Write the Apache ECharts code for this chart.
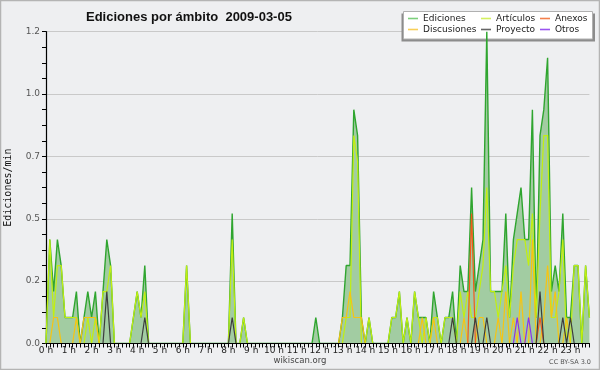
<!DOCTYPE html>
<html><head><meta charset="utf-8">
<script src="https://cdn.jsdelivr.net/npm/echarts/dist/echarts.min.js"></script>
<style>html,body{margin:0;padding:0;background:#eeeff1;}#c{width:600px;height:370px;}</style>
</head><body><div id="c"></div>
<script>
const hourLabels = ['0 h','1 h','2 h','3 h','4 h','5 h','6 h','7 h','8 h','9 h','10 h','11 h',
  '12 h','13 h','14 h','15 h','16 h','17 h','18 h','19 h','20 h','21 h','22 h','23 h'];
const seriesNames = ['Ediciones','Artículos','Anexos','Discusiones','Proyecto','Otros'];
// 10-minute bins, edits per minute (one row per hour)
const ediciones = [
  0,0.4,0.2,0.4,0.3,0.1,  0.1,0.1,0.2,0,0.1,0.2,  0.1,0.2,0,0.2,0.4,0.3,  0,0,0,0,0,0.1,
  0.2,0.1,0.3,0,0,0,  0,0,0,0,0,0,  0,0.3,0,0,0,0,  0,0,0,0,0,0,
  0,0.5,0,0,0.1,0,  0,0,0,0,0,0,  0,0,0,0,0,0,  0,0,0,0,0,0.1,
  0,0,0,0,0,0,  0.1,0.3,0.3,0.9,0.8,0.1,  0,0.1,0,0,0,0,  0,0.1,0.1,0.2,0,0.1,
  0,0.2,0.1,0.1,0.1,0,  0.2,0.1,0,0.1,0.1,0.2,  0,0.3,0.2,0.2,0.6,0.2,  0.3,0.4,1.2,0.2,0.2,0.2,
  0.2,0.5,0.1,0.4,0.5,0.6,  0.4,0.4,0.9,0.1,0.8,0.9,  1.1,0.2,0.3,0.2,0.5,0.1,  0.1,0.3,0.3,0,0.3,0.1
];
const articulos = [
  0,0.4,0.1,0.3,0.3,0.1,  0.1,0.1,0.1,0,0,0.1,  0,0.1,0,0.2,0.2,0.3,  0,0,0,0,0,0.1,
  0.2,0.1,0.2,0,0,0,  0,0,0,0,0,0,  0,0.3,0,0,0,0,  0,0,0,0,0,0,
  0,0.4,0,0,0.1,0,  0,0,0,0,0,0,  0,0,0,0,0,0,  0,0,0,0,0,0,
  0,0,0,0,0,0,  0,0.1,0.1,0.8,0.7,0,  0,0.1,0,0,0,0,  0,0.1,0.1,0.2,0,0.1,
  0,0.2,0.1,0,0.1,0,  0.1,0.1,0,0.1,0.1,0.1,  0,0.2,0.1,0.2,0.1,0.1,  0.2,0.3,0.6,0.2,0.2,0.1,
  0.2,0.3,0.1,0.3,0.4,0.4,  0.4,0.3,0.5,0.1,0.5,0.8,  0.8,0.1,0.1,0.2,0.4,0,  0,0.3,0.3,0,0.3,0.1
];
const anexos = [
  0,0,0,0,0,0,  0,0,0,0,0,0,  0,0,0,0,0,0,  0,0,0,0,0,0,
  0,0,0,0,0,0,  0,0,0,0,0,0,  0,0,0,0,0,0,  0,0,0,0,0,0,
  0,0,0,0,0,0,  0,0,0,0,0,0,  0,0,0,0,0,0,  0,0,0,0,0,0,
  0,0,0,0,0,0,  0,0,0,0,0,0,  0,0,0,0,0,0,  0,0,0,0,0,0,
  0,0,0,0,0,0,  0,0,0,0,0,0,  0,0,0,0,0.5,0,  0,0,0,0,0,0,
  0,0,0,0,0,0,  0,0,0,0,0.1,0,  0,0,0,0,0,0,  0,0,0,0,0,0
];
const discusiones = [
  0,0,0.1,0.1,0,0,  0,0,0.1,0,0.1,0.1,  0.1,0.1,0,0,0,0,  0,0,0,0,0,0,
  0,0,0,0,0,0,  0,0,0,0,0,0,  0,0,0,0,0,0,  0,0,0,0,0,0,
  0,0,0,0,0,0,  0,0,0,0,0,0,  0,0,0,0,0,0,  0,0,0,0,0,0,
  0,0,0,0,0,0,  0.1,0.1,0.2,0.1,0.1,0.1,  0,0,0,0,0,0,  0,0,0,0,0,0,
  0,0,0,0.1,0,0,  0.1,0,0,0,0,0,  0,0,0.1,0,0,0,  0.1,0.1,0,0,0,0.1,
  0,0.2,0,0.1,0,0.2,  0,0,0.4,0,0,0.1,  0.3,0.1,0.2,0,0,0.1,  0,0,0,0,0,0
];
const proyecto = [
  0,0,0,0,0,0,  0,0,0,0,0,0,  0,0,0,0,0.2,0,  0,0,0,0,0,0,
  0,0,0.1,0,0,0,  0,0,0,0,0,0,  0,0,0,0,0,0,  0,0,0,0,0,0,
  0,0.1,0,0,0,0,  0,0,0,0,0,0,  0,0,0,0,0,0,  0,0,0,0,0,0,
  0,0,0,0,0,0,  0,0,0,0,0,0,  0,0,0,0,0,0,  0,0,0,0,0,0,
  0,0,0,0,0,0,  0,0,0,0,0,0.1,  0,0,0,0,0,0.1,  0,0,0.1,0,0,0,
  0,0,0,0,0,0,  0,0,0,0,0.2,0,  0,0,0,0,0.1,0,  0.1,0,0,0,0,0
];
const otros = [
  0,0,0,0,0,0,  0,0,0,0,0,0,  0,0,0,0,0,0,  0,0,0,0,0,0,
  0,0,0,0,0,0,  0,0,0,0,0,0,  0,0,0,0,0,0,  0,0,0,0,0,0,
  0,0,0,0,0,0,  0,0,0,0,0,0,  0,0,0,0,0,0,  0,0,0,0,0,0,
  0,0,0,0,0,0,  0,0,0,0,0,0,  0,0,0,0,0,0,  0,0,0,0,0,0,
  0,0,0,0,0,0,  0,0,0,0,0,0,  0,0,0,0,0,0,  0,0,0,0,0,0,
  0,0,0,0,0.1,0,  0,0.1,0,0,0,0,  0,0,0,0,0,0,  0,0,0,0,0,0
];

const categories = [];
for (let h = 0; h < 24; h++) for (let m = 0; m < 6; m++) categories.push(h + ':' + m + '0');

const colors = {
  'Ediciones':'#2fa52f','Artículos':'#c2ef10','Anexos':'#f25a1c',
  'Discusiones':'#f7c412','Proyecto':'#3d3d3d','Otros':'#8a33ee'
};
const legendColors = {
  'Ediciones':'#7ccf7c','Artículos':'#d4f060','Anexos':'#f4804c',
  'Discusiones':'#f8cf58','Proyecto':'#666666','Otros':'#9a55f0'
};
const dataMap = {'Ediciones':ediciones,'Artículos':articulos,'Anexos':anexos,
  'Discusiones':discusiones,'Proyecto':proyecto,'Otros':otros};
const drawOrder = ['Ediciones','Artículos','Discusiones','Anexos','Proyecto','Otros'];

const series = drawOrder.map(n => {
  const s = {
    name: n, type: 'line', data: dataMap[n], symbol: 'none', silent: true,
    itemStyle: {color: colors[n]},
    lineStyle: {color: colors[n], width: n === 'Ediciones' ? 1.4 : 1.2}
  };
  if (n === 'Ediciones') s.areaStyle = {color: '#a2cca2', opacity: 1};
  return s;
});

const legendFont = {fontFamily: 'DejaVu Sans', fontSize: 9, color: '#222', lineHeight: 11};
function mkLegend(names, left) {
  return {data: names.map(n => ({name: n, itemStyle: {color: legendColors[n]}})),
    orient: 'vertical', left: left, top: 13, itemGap: 0,
    itemWidth: 10, itemHeight: 1.6, icon: 'rect', padding: 0, z: 6,
    textStyle: legendFont, selectedMode: false};
}

const chart = echarts.init(document.getElementById('c'), null, {renderer: 'canvas'});
chart.setOption({
  animation: false,
  backgroundColor: '#eeeff1',
  title: {text: 'Ediciones por ámbito  2009-03-05', left: 81, top: 6,
    textStyle: {fontFamily: 'Liberation Sans', fontSize: 13, fontWeight: 'bold', color: '#111'}},
  legend: [mkLegend(['Ediciones','Discusiones'], 408), mkLegend(['Artículos','Proyecto'], 481),
           mkLegend(['Anexos','Otros'], 540)],
  grid: {left: 46, right: 10.6, top: 31.7, bottom: 26.5, containLabel: false, outerBoundsMode: 'none'},
  xAxis: {
    type: 'category', data: categories, boundaryGap: false, z: 10,
    axisLine: {lineStyle: {color: '#000', width: 1.2}},
    axisTick: {show: true, interval: 0, length: 4, lineStyle: {color: '#000', width: 1}},
    axisLabel: {interval: 5, margin: 3, fontFamily: 'DejaVu Sans', fontSize: 9, color: '#222',
      formatter: (v, i) => (i % 6 === 0 ? hourLabels[i / 6] : '')},
    splitLine: {show: false}
  },
  yAxis: {
    type: 'value', min: 0, max: 1.2, interval: 0.24,
    name: 'Ediciones/min', nameLocation: 'middle', nameGap: 33, nameRotate: 90,
    nameTextStyle: {fontFamily: 'DejaVu Sans Mono', fontSize: 10, color: '#111'},
    axisLine: {show: true, lineStyle: {color: '#000', width: 1.2}},
    axisTick: {show: true, length: 4, lineStyle: {color: '#000'}},
    minorTick: {show: true, splitNumber: 4, length: 4, lineStyle: {color: '#000'}},
    axisLabel: {margin: 6, fontFamily: 'DejaVu Sans', fontSize: 9, color: '#555',
      formatter: v => v.toFixed(1)},
    splitLine: {show: true, lineStyle: {color: '#c9c9c9', width: 1}}
  },
  series: series,
  graphic: [
    {type: 'rect', z: 3, shape: {x: 401.5, y: 13.5, width: 193.5, height: 28}, style: {fill: '#8c8c8c'}},
    {type: 'rect', z: 3, shape: {x: 403.5, y: 11.5, width: 189, height: 27.5}, style: {fill: '#ffffff', stroke: '#b0b0b0', lineWidth: 1}},
    {type: 'text', left: 'center', top: 356, z: 5,
      style: {text: 'wikiscan.org', font: '8.5px "DejaVu Sans"', fill: '#444'}},
    {type: 'text', right: 9, top: 359, z: 5,
      style: {text: 'CC BY-SA 3.0', font: '6.5px "DejaVu Sans"', fill: '#555'}},
    {type: 'rect', z: 20, silent: true, shape: {x: 0.5, y: 0.5, width: 599, height: 369},
      style: {fill: 'none', stroke: '#b4b4b4', lineWidth: 1.5}}
  ]
});
</script></body></html>
